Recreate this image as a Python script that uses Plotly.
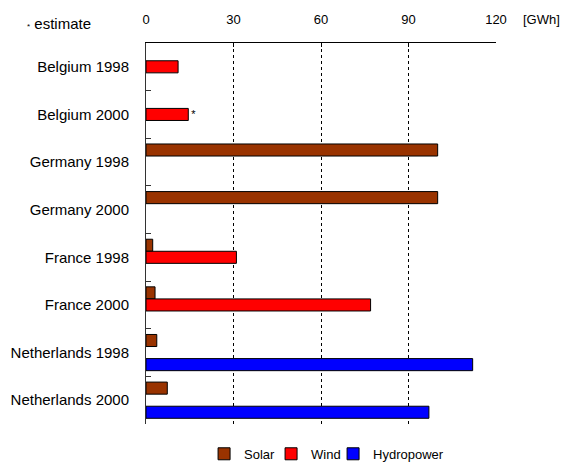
import plotly.graph_objects as go

categories = ["Belgium 1998", "Belgium 2000", "Germany 1998", "Germany 2000",
              "France 1998", "France 2000", "Netherlands 1998", "Netherlands 2000"]
solar = [None, None, 100, 100, 2.3, 3.1, 3.7, 7.3]
wind = [11, 14.5, None, None, 31, 77, None, None]
hydro = [None, None, None, None, None, None, 112, 97]
wind_notes = ["", "*", "", "", "", "", "", ""]
x_ticks = [0, 30, 60, 90, 120]

FONT = "Liberation Sans, Arial, sans-serif"

fig = go.Figure()
fig.add_trace(go.Bar(y=categories, x=solar, name="Solar", orientation="h", legendwidth=22,
                     marker=dict(color="#993300", line=dict(color="black", width=1))))
fig.add_trace(go.Bar(y=categories, x=wind, name="Wind", orientation="h", legendwidth=17,
                     text=wind_notes, textposition="outside", cliponaxis=False,
                     textfont=dict(size=11, color="black", family=FONT),
                     marker=dict(color="#FF0000", line=dict(color="black", width=1))))
fig.add_trace(go.Bar(y=categories, x=hydro, name="Hydropower", orientation="h",
                     marker=dict(color="#0000FF", line=dict(color="black", width=1))))

fig.update_layout(
    width=578, height=465,
    margin=dict(l=146, r=82, t=43, b=41, autoexpand=False),
    paper_bgcolor="white", plot_bgcolor="white",
    barmode="group", bargap=0.24, bargroupgap=0,
    font=dict(family=FONT, color="black", size=13),
    showlegend=True,
    legend=dict(orientation="h", xref="container", yref="container",
                x=0.565, y=0.024, xanchor="center", yanchor="middle",
                font=dict(size=13), traceorder="normal", itemwidth=30),
    xaxis=dict(side="top", range=[0, 120], tickvals=x_ticks,
               showgrid=True, gridcolor="black", griddash="dot", gridwidth=1,
               showline=True, linecolor="black", linewidth=1,
               ticks="inside", ticklen=4, tickcolor="black",
               ticklabelstandoff=13, tickfont=dict(size=13),
               zeroline=False),
    yaxis=dict(autorange="reversed", showline=True, linecolor="#333333", linewidth=1,
               ticks="inside", ticklen=5, tickcolor="#333333", tickson="boundaries",
               tickfont=dict(size=15), showgrid=False, ticklabelstandoff=13),
    annotations=[
        dict(text="[GWh]", xref="paper", yref="paper", x=1.07, y=1.0,
             yshift=24, xanchor="left", yanchor="middle", showarrow=False,
             font=dict(size=13)),
        dict(text="<span style='font-size:8px'>*</span> estimate", xref="paper", yref="paper",
             x=-0.345, y=1.0, yshift=20, xanchor="left", yanchor="middle",
             showarrow=False, font=dict(size=15)),
    ],
)

fig.write_html("out.html", config={"displayModeBar": False},
               post_script="document.body.style.margin='0';document.body.style.overflow='hidden';")
